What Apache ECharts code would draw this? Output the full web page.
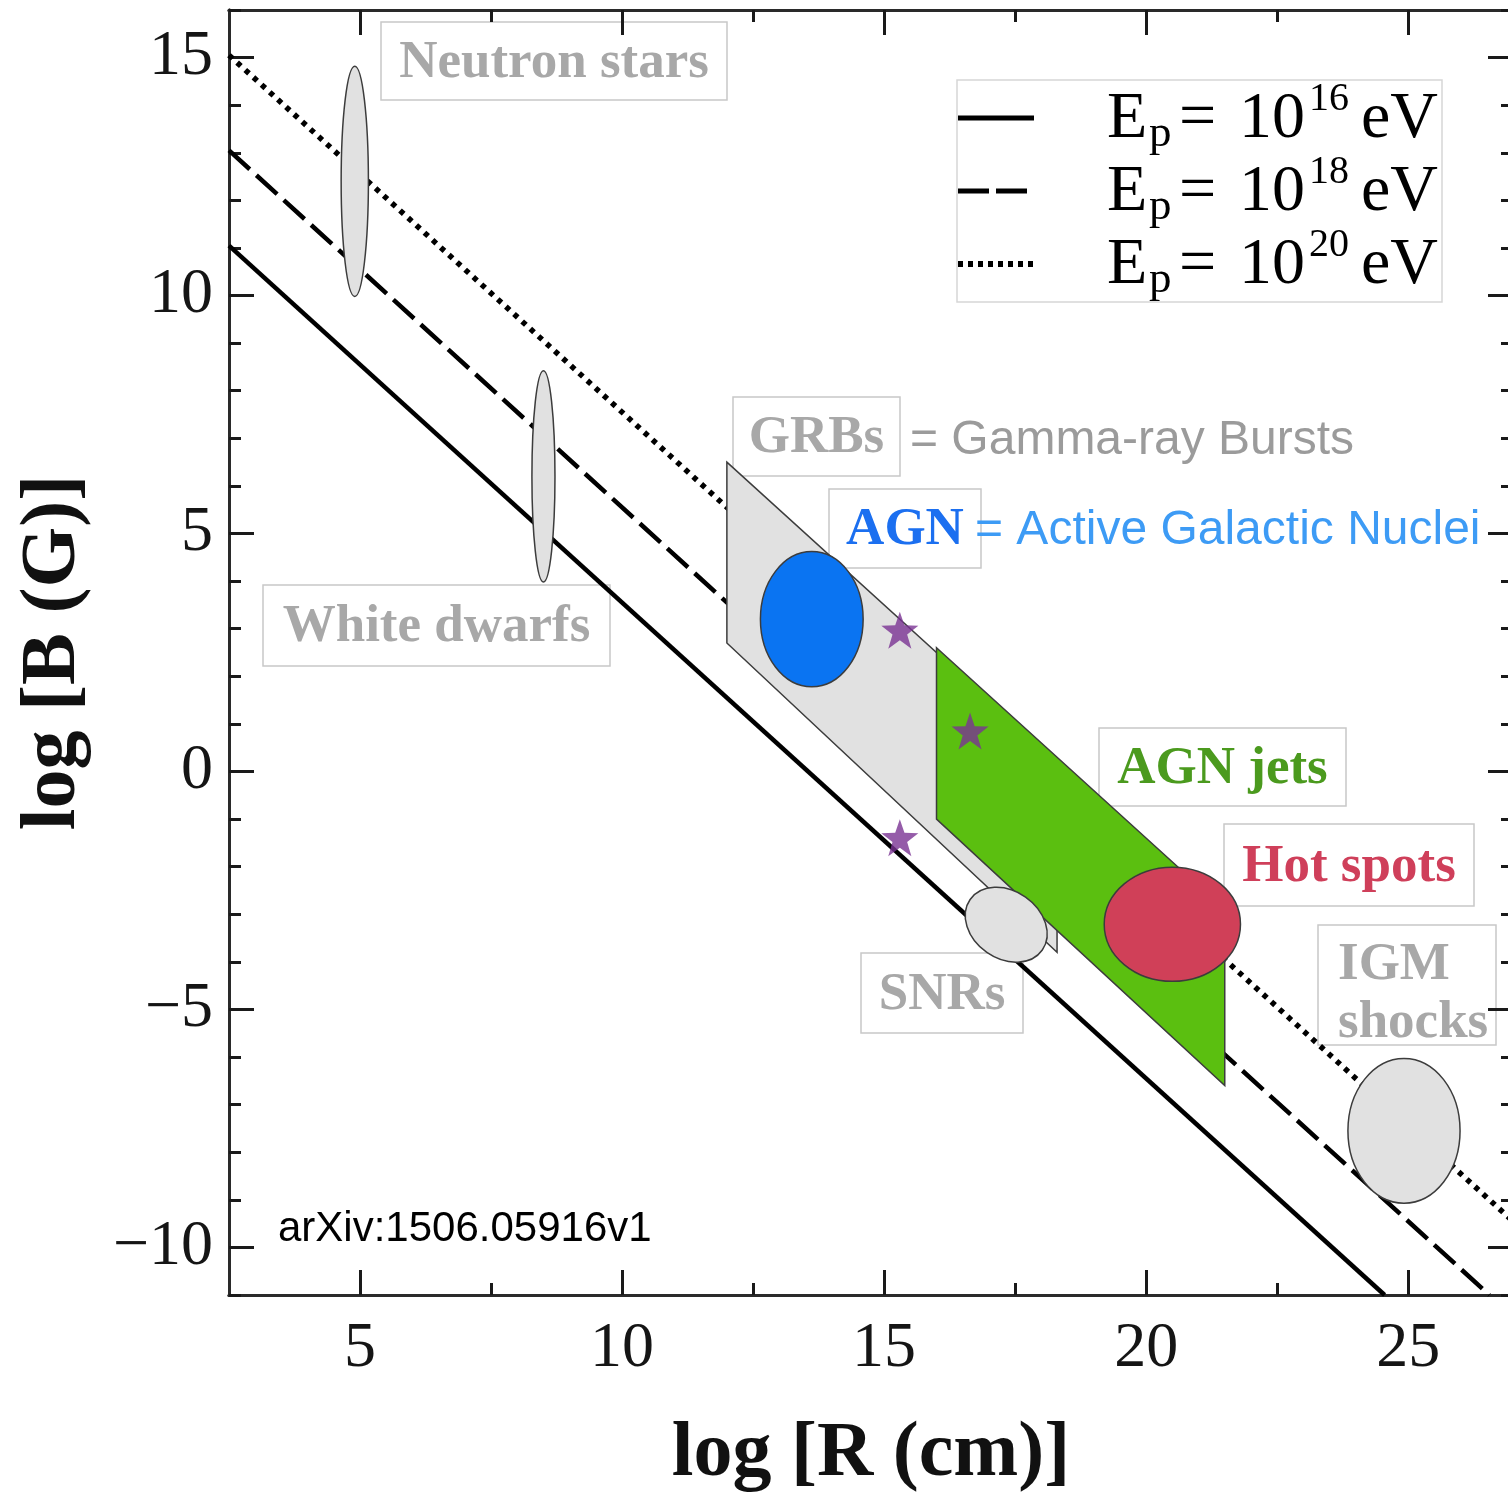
<!DOCTYPE html>
<html>
<head>
<meta charset="utf-8">
<script src="https://cdn.jsdelivr.net/npm/echarts@6/dist/echarts.min.js"></script>
<style>
  html, body { margin: 0; padding: 0; background: #ffffff; }
  #chart { width: 1508px; height: 1492px; }
</style>
</head>
<body>
<div id="chart"></div>
<script>
// Hillas diagram: magnetic field versus size of candidate accelerators

// Axis ticks
const xMajorTicks = [5, 10, 15, 20, 25];
const xMinorTicks = [7.5, 12.5, 17.5, 22.5];
const yMajorTicks = [-10, -5, 0, 5, 10, 15];
const yMinorTicks = [-11, -9, -8, -7, -6, -4, -3, -2, -1, 1, 2, 3, 4, 6, 7, 8, 9, 11, 12, 13, 14, 16];

// Maximum proton energy lines, end points as [log R, log B]
const line16 = [[2.5, 11.05], [24.55, -11]];
const line18 = [[2.5, 13.05], [26.55, -11]];
const line20 = [[2.5, 15.05], [27.5, -9.95]];

// Source classes drawn as ellipses: centre and half extents (log units)
const sourceNames = ['Neutron stars', 'White dwarfs', 'AGN', 'SNRs', 'Hot spots', 'IGM shocks'];
const sourceLogR  = [4.9, 8.5, 13.62, 17.33, 20.5, 24.92];
const sourceLogB  = [12.4, 6.2, 3.2, -3.22, -3.21, -7.55];
const sourceHalfR = [0.26, 0.22, 0.98, 0.84, 1.30, 1.07];
const sourceHalfB = [2.42, 2.22, 1.42, 0.71, 1.20, 1.52];

// Band-shaped regions (vertices in log R, log B)
const grbLogR = [12.0, 18.3, 18.3, 12.0];
const grbLogB = [6.5, 0.2, -3.8, 2.7];
const jetLogR = [16.0, 21.5, 21.5, 16.0];
const jetLogB = [2.6, -2.9, -6.6, -1.0];

// Individual objects marked with stars
const starLogR = [15.3, 16.64, 15.3];
const starLogB = [2.97, 0.85, -1.39];

const SERIF = 'Liberation Serif, Times New Roman, serif';
const SANS = 'Liberation Sans, Arial, sans-serif';
const GRAY_FILL = '#e1e1e1';
const OUTLINE = '#3c3c3c';

const sourceStyle = {
  'Neutron stars': { fill: GRAY_FILL, tilt: 0 },
  'White dwarfs':  { fill: GRAY_FILL, tilt: 0 },
  'AGN':           { fill: '#0a74f2', tilt: 0 },
  'SNRs':          { fill: GRAY_FILL, tilt: -0.61 },
  'Hot spots':     { fill: '#d04058', tilt: 0 },
  'IGM shocks':    { fill: GRAY_FILL, tilt: 0 }
};

const X_MIN = 2.5, X_MAX = 27, Y_MIN = -11, Y_MAX = 16;
const axisLineStyle = { color: '#2a2a2a', width: 3 };
const tickStyle = { color: '#1a1a1a', width: 3 };

function makeAxis(dir, position, ticks, length, withLabels) {
  const ax = {
    type: 'value',
    position: position,
    min: dir === 'x' ? X_MIN : Y_MIN,
    max: dir === 'x' ? X_MAX : Y_MAX,
    axisLine: { show: true, onZero: false, lineStyle: axisLineStyle },
    axisTick: { show: true, inside: true, length: length, lineStyle: tickStyle, customValues: ticks },
    axisLabel: { show: false },
    splitLine: { show: false },
    minorTick: { show: false },
    minorSplitLine: { show: false }
  };
  if (withLabels) {
    ax.axisLabel = {
      show: true,
      customValues: ticks,
      fontFamily: SERIF,
      fontSize: 64,
      color: '#151515',
      margin: dir === 'x' ? 22 : 16,
      formatter: v => (v < 0 ? '\u2212' + Math.abs(v) : String(v))
    };
  }
  return ax;
}

const xAxes = [
  makeAxis('x', 'bottom', xMajorTicks, 25, true),
  makeAxis('x', 'bottom', xMinorTicks, 12, false),
  makeAxis('x', 'top', xMajorTicks, 25, false),
  makeAxis('x', 'top', xMinorTicks, 12, false)
];
Object.assign(xAxes[0], {
  name: 'log [R (cm)]',
  nameLocation: 'middle',
  nameGap: 121,
  nameTextStyle: { fontFamily: SERIF, fontWeight: 'bold', fontSize: 78, color: '#111' }
});

const yAxes = [
  makeAxis('y', 'left', yMajorTicks, 25, true),
  makeAxis('y', 'left', yMinorTicks, 12, false),
  makeAxis('y', 'right', yMajorTicks, 25, false),
  makeAxis('y', 'right', yMinorTicks, 12, false)
];
Object.assign(yAxes[0], {
  name: 'log [B (G)]',
  nameLocation: 'middle',
  nameGap: 136,
  nameRotate: 90,
  nameTextStyle: { fontFamily: SERIF, fontWeight: 'bold', fontSize: 78, color: '#111' }
});

function energyLine(points, dash, width) {
  return {
    type: 'line',
    data: points,
    symbol: 'none',
    silent: true,
    clip: true,
    z: 1,
    lineStyle: { color: '#000', width: width, type: dash, cap: 'butt' }
  };
}

function polygonSeries(logR, logB, fill) {
  return {
    type: 'custom',
    coordinateSystem: 'cartesian2d',
    silent: true,
    z: 3,
    data: [logR.map((r, i) => [r, logB[i]]).flat()],
    renderItem: function (params, api) {
      const pts = [];
      for (let i = 0; i < logR.length; i++) {
        pts.push(api.coord([api.value(2 * i), api.value(2 * i + 1)]));
      }
      return {
        type: 'polygon',
        shape: { points: pts },
        style: { fill: fill, stroke: OUTLINE, lineWidth: 1.5 }
      };
    }
  };
}

const ellipseSeries = {
  type: 'custom',
  coordinateSystem: 'cartesian2d',
  silent: true,
  z: 4,
  data: sourceNames.map((n, i) => [sourceLogR[i], sourceLogB[i], sourceHalfR[i], sourceHalfB[i]]),
  renderItem: function (params, api) {
    const c = api.coord([api.value(0), api.value(1)]);
    const s = api.size([api.value(2), api.value(3)]);
    const st = sourceStyle[sourceNames[params.dataIndex]];
    return {
      type: 'ellipse',
      x: c[0],
      y: c[1],
      rotation: st.tilt,
      shape: { cx: 0, cy: 0, rx: s[0], ry: s[1] },
      style: { fill: st.fill, stroke: OUTLINE, lineWidth: 1.5 }
    };
  }
};

const starSeries = {
  type: 'scatter',
  silent: true,
  z: 6,
  symbol: 'path://M50,0 L62,34 L98,35 L69,57 L80,92 L50,71 L20,92 L31,57 L2,35 L38,34 Z',
  symbolSize: 37,
  itemStyle: { color: '#7b3394' },
  data: starLogR.map((r, i) => [r, starLogB[i]])
};

// Framed annotation labels
const LABEL_FONT = 'bold 53px ' + SERIF;
function boxedLabel(left, top, w, h, text, color) {
  return {
    type: 'group',
    z: 100,
    children: [
      { type: 'rect', shape: { x: left, y: top, width: w, height: h },
        style: { fill: '#fff', stroke: '#c8c8c8', lineWidth: 1.5 } },
      { type: 'text', x: left + w / 2, y: top + h / 2 + 2,
        style: { text: text, fill: color, font: LABEL_FONT, align: 'center', verticalAlign: 'middle' } }
    ]
  };
}

const LABEL_GRAY = '#a8a8a8';
const graphics = [
  boxedLabel(381, 22, 346, 78, 'Neutron stars', LABEL_GRAY),
  boxedLabel(733, 397, 167, 79, 'GRBs', LABEL_GRAY),
  boxedLabel(829, 489, 152, 79, 'AGN', '#1b6ff0'),
  boxedLabel(263, 585, 347, 81, 'White dwarfs', LABEL_GRAY),
  boxedLabel(1099, 728, 247, 78, 'AGN jets', '#4b9a1e'),
  boxedLabel(1224, 824, 250, 82, 'Hot spots', '#cf3f5a'),
  boxedLabel(861, 953, 162, 80, 'SNRs', LABEL_GRAY),
  {
    type: 'group', z: 100,
    children: [
      { type: 'rect', shape: { x: 1318, y: 925, width: 178, height: 120 },
        style: { fill: '#fff', stroke: '#c8c8c8', lineWidth: 1.5 } },
      { type: 'text', x: 1338, y: 965,
        style: { text: 'IGM', fill: LABEL_GRAY, font: LABEL_FONT, align: 'left', verticalAlign: 'middle' } },
      { type: 'text', x: 1338, y: 1023,
        style: { text: 'shocks', fill: LABEL_GRAY, font: LABEL_FONT, align: 'left', verticalAlign: 'middle' } }
    ]
  },
  { type: 'text', z: 100, x: 910, y: 441,
    style: { text: '= Gamma-ray Bursts', fill: '#9b9b9b', font: '48px ' + SANS, align: 'left', verticalAlign: 'middle' } },
  { type: 'text', z: 100, x: 975, y: 531,
    style: { text: '= Active Galactic Nuclei', fill: '#3d9bf5', font: '48px ' + SANS, align: 'left', verticalAlign: 'middle' } },
  { type: 'text', z: 100, x: 278, y: 1229,
    style: { text: 'arXiv:1506.05916v1', fill: '#000', font: '42px ' + SANS, align: 'left', verticalAlign: 'middle' } }
];

// Legend for the three energy lines
const legendRows = [
  { y: 120, exp: '16', dash: null, width: 5 },
  { y: 193, exp: '18', dash: [31, 7], width: 5 },
  { y: 266, exp: '20', dash: [5, 5], width: 6 }
];
const legendChildren = [
  { type: 'rect', shape: { x: 957, y: 80, width: 485, height: 222 },
    style: { fill: '#fff', stroke: '#d6d6d6', lineWidth: 1.5 } }
];
const LEG_FONT = '66px ' + SERIF;
legendRows.forEach(row => {
  legendChildren.push(
    { type: 'line', shape: { x1: 958, y1: row.y - 2, x2: 1034, y2: row.y - 2 },
      style: { stroke: '#000', lineWidth: row.width, lineDash: row.dash } },
    { type: 'text', x: 1107, y: row.y,
      style: { text: 'E', fill: '#000', font: LEG_FONT, align: 'left', verticalAlign: 'middle' } },
    { type: 'text', x: 1149, y: row.y + 14,
      style: { text: 'p', fill: '#000', font: '45px ' + SERIF, align: 'left', verticalAlign: 'middle' } },
    { type: 'text', x: 1179, y: row.y,
      style: { text: '=', fill: '#000', font: LEG_FONT, align: 'left', verticalAlign: 'middle' } },
    { type: 'text', x: 1239, y: row.y,
      style: { text: '10', fill: '#000', font: LEG_FONT, align: 'left', verticalAlign: 'middle' } },
    { type: 'text', x: 1309, y: row.y - 21,
      style: { text: row.exp, fill: '#000', font: '40px ' + SERIF, align: 'left', verticalAlign: 'middle' } },
    { type: 'text', x: 1361, y: row.y,
      style: { text: 'eV', fill: '#000', font: LEG_FONT, align: 'left', verticalAlign: 'middle' } }
  );
});
graphics.push({ type: 'group', z: 100, children: legendChildren });

const chart = echarts.init(document.getElementById('chart'), null, { renderer: 'canvas' });
chart.setOption({
  animation: false,
  backgroundColor: '#ffffff',
  grid: { left: 229, top: 10, right: -5, bottom: 197, containLabel: false, outerBoundsMode: 'none' },
  xAxis: xAxes,
  yAxis: yAxes,
  series: [
    energyLine(line16, 'solid', 4.5),
    energyLine(line18, [28, 9], 4.5),
    energyLine(line20, [5, 6], 5.5),
    polygonSeries(grbLogR, grbLogB, GRAY_FILL),
    polygonSeries(jetLogR, jetLogB, '#5bbf10'),
    ellipseSeries,
    starSeries
  ],
  graphic: graphics
});
</script>
</body>
</html>
